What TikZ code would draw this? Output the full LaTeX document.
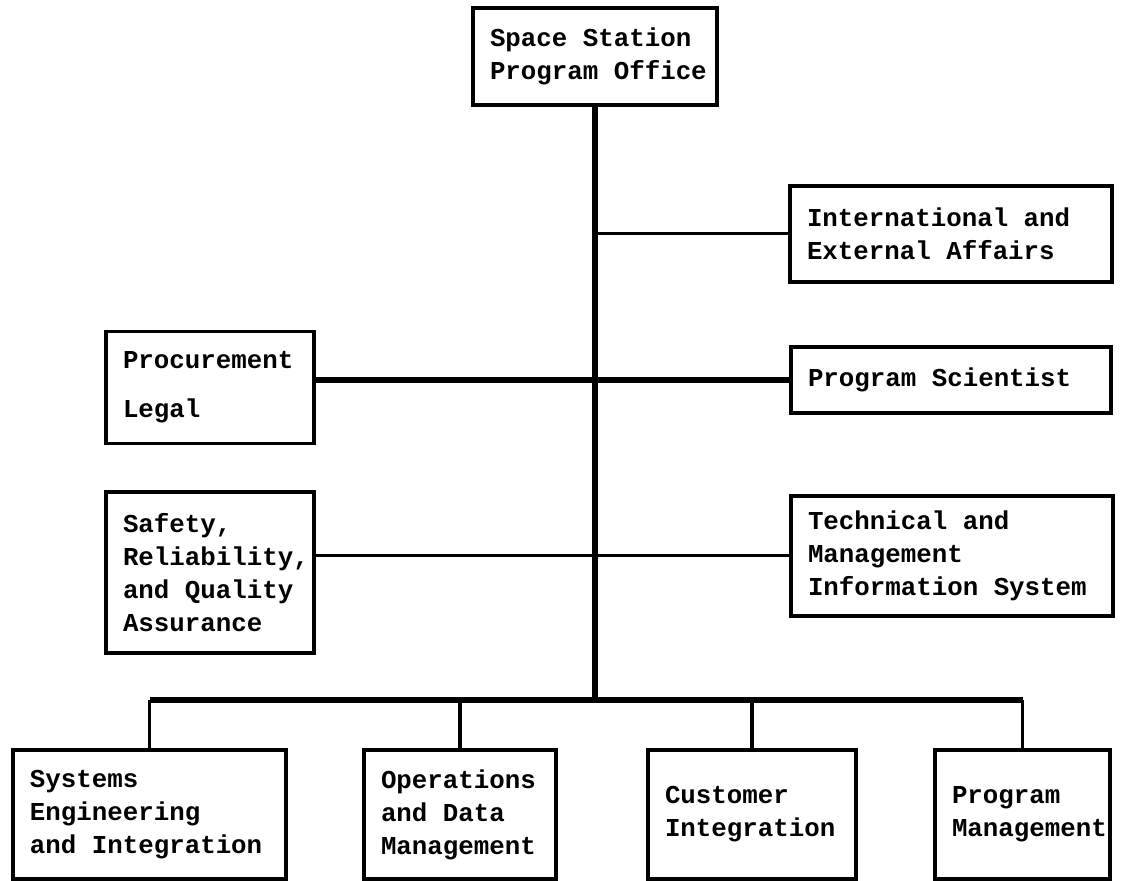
\documentclass[tikz,border=0pt]{standalone}
\usepackage{fontspec}
\setmonofont{Liberation Mono}
\newcommand{\canvaswidth}{1121}
\newcommand{\canvasheight}{881}
\newcommand{\nohyph}{\hyphenpenalty10000\relax}
% one typewriter cell of blank space, no break
\newcommand{\tsp}{\nobreak\hskip0.6em\relax}
\tikzstyle{unit}=[draw, rectangle, line width=1.7pt, align=left, inner xsep=8.5pt, inner ysep=0pt,
    font=\fontsize{12.9}{16.5}\selectfont\ttfamily\bfseries\nohyph]
\tikzstyle{trunk}=[line width=2.6pt]
\tikzstyle{branch}=[line width=1.5pt]
\tikzstyle{drop}=[line width=1.8pt]

\begin{document}
\begin{tikzpicture}[x=0.5pt, y=-0.5pt]
        \useasboundingbox (0,0) rectangle (\canvaswidth,\canvasheight);

        % head office
        \node[unit, text width=105pt, minimum height=48.5pt] (office) at (595,56.5) {Space\tsp Station\\Program\tsp Office};

        % staff offices
        \node[unit, text width=144pt, minimum height=48pt] (intl) at (951,234) {International\tsp and\\External\tsp Affairs};
        \node[unit, text width=87pt, minimum height=56pt] (proc) at (210,387.5) {Procurement\\[8pt]Legal};
        \node[unit, text width=143pt, minimum height=33pt] (sci) at (951,380) {Program\tsp Scientist};
        \node[unit, text width=87pt, minimum height=80.5pt] (safety) at (210,572.5) {Safety,\\Reliability,\\and\tsp Quality\\Assurance};
        \node[unit, text width=144pt, minimum height=60pt] (tech) at (952,556) {Technical\tsp and\\Management\\Information\tsp System};

        % line offices
        \node[unit, text width=119.5pt, minimum height=64.5pt] (syseng) at (149.5,814.5) {Systems\\Engineering\\and\tsp Integration};
        \node[unit, text width=79pt, minimum height=64.5pt] (ops) at (460,814.5) {Operations\\and\tsp Data\\Management};
        \node[unit, text width=87pt, minimum height=64.5pt] (cust) at (752,814.5) {Customer\\Integration};
        \node[unit, text width=70.5pt, minimum height=64.5pt] (pm) at (1022.5,814.5) {Program\\Management};

        \coordinate (hub) at (595,700);

        % connections
        \draw[trunk] (office.south) -- (hub);
        \draw[branch] (intl.west -| hub) -- (intl.west);
        \draw[trunk] (proc.east |- sci.west) -- (sci.west);
        \draw[branch] (safety.east |- tech.west) -- (tech.west);
        \draw[trunk] (syseng.north |- hub) -- (pm.north |- hub);
        \foreach \n in {syseng,ops,cust,pm} {
            \draw[drop] (\n.north |- hub) -- (\n.north);
        }
\end{tikzpicture}
\end{document}
